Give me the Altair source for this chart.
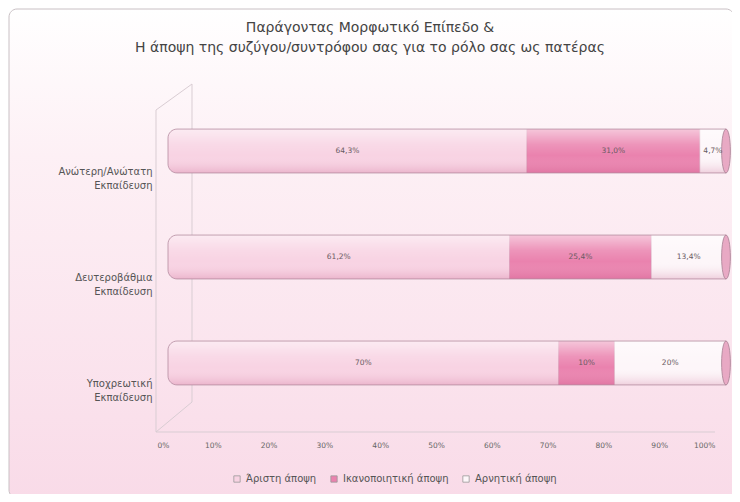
import altair as alt
import pandas as pd

# ---- data ----
categories = ["Ανώτερη/Ανώτατη Εκπαίδευση", "Δευτεροβάθμια Εκπαίδευση", "Υποχρεωτική Εκπαίδευση"]
series = ["Άριστη άποψη", "Ικανοποιητική άποψη", "Αρνητική άποψη"]
aristi = [64.3, 61.2, 70.0]
ikanopoiitiki = [31.0, 25.4, 10.0]
arnitiki = [4.7, 13.4, 20.0]
value_labels = [["64,3%", "31,0%", "4,7%"],
                ["61,2%", "25,4%", "13,4%"],
                ["70%", "10%", "20%"]]
x_ticks = [0, 10, 20, 30, 40, 50, 60, 70, 80, 90, 100]
title_lines = ["Παράγοντας Μορφωτικό Επίπεδο &",
               "Η άποψη της συζύγου/συντρόφου σας για το ρόλο σας ως πατέρας"]
colors = ["#f8d3e3", "#ea82ae", "#fdf6f9"]

rows = []
for i, cat in enumerate(categories):
    for j, (s, vals) in enumerate(zip(series, [aristi, ikanopoiitiki, arnitiki])):
        rows.append({"cat": cat, "series": s, "value": vals[i], "order": j,
                     "label": value_labels[i][j]})
df = pd.DataFrame(rows)
cat_df = pd.DataFrame({"cat": categories})

W, H = 558, 294
FONT = "DejaVu Sans"

yscale = alt.Scale(domain=categories, paddingInner=0.586, paddingOuter=0.18)
xscale = alt.Scale(domain=[0, 100], nice=False, zero=True)

base = alt.Chart(df).transform_stack(
    stack="value", groupby=["cat"], as_=["start", "end"],
    sort=[alt.SortField("order")]
)

yenc = alt.Y("cat:N", scale=yscale, sort=categories,
             axis=alt.Axis(title=None, ticks=False, domain=False, zindex=2,
                           labelExpr="split(datum.label, ' ')",
                           labelFontSize=10, labelColor="#555555",
                           labelFont=FONT, labelPadding=16, labelOffset=21,
                           labelLineHeight=14, labelAlign="right",
                           labelLimit=200))
xenc = alt.X("start:Q", scale=xscale,
             axis=alt.Axis(title=None, values=x_ticks, ticks=False, domain=False,
                           grid=False, labelExpr="datum.value + '%'", zindex=2,
                           labelFontSize=7.5, labelColor="#666666", labelFont=FONT,
                           labelPadding=37, labelOffset=-11))

color = alt.Color("series:N", scale=alt.Scale(domain=series, range=colors),
                  legend=alt.Legend(title=None, orient="none", direction="horizontal",
                                    legendX=67, legendY=364, symbolType="square",
                                    symbolSize=40, symbolStrokeColor="#999999",
                                    symbolStrokeWidth=0.8, labelFontSize=10,
                                    labelFont=FONT, labelColor="#555555",
                                    columnPadding=12, padding=0, symbolOffset=-3,
                                    zindex=2))

one = pd.DataFrame({"k": [0]})

# background frame
frame = alt.Chart(one).mark_rect(
    cornerRadius=8, stroke="#c9c0c4", strokeWidth=1,
    fill=alt.Gradient(gradient="linear",
                      stops=[alt.GradientStop(color="#ffffff", offset=0),
                             alt.GradientStop(color="#fdf0f5", offset=0.3),
                             alt.GradientStop(color="#f9dbe8", offset=1)],
                      x1=0, x2=0, y1=0, y2=1)
).encode(x=alt.value(-159), x2=alt.value(566), y=alt.value(-101), y2=alt.value(388))

# title lines as text
title1 = alt.Chart(one).mark_text(
    text=title_lines[0], fontSize=14, font=FONT, color="#444444", align="center",
    baseline="middle"
).encode(x=alt.value(202), y=alt.value(-82))
title2 = alt.Chart(one).mark_text(
    text=title_lines[1], fontSize=14, font=FONT, color="#444444", align="center",
    baseline="middle"
).encode(x=alt.value(202), y=alt.value(-62))

# 3D wall / floor lines
line_col = "#d9cdd3"
wall_front = alt.Chart(one).mark_rule(color=line_col, strokeWidth=1).encode(
    x=alt.value(-12), y=alt.value(0), y2=alt.value(322))
wall_back = alt.Chart(one).mark_rule(color=line_col, strokeWidth=1).encode(
    x=alt.value(24), y=alt.value(-26), y2=alt.value(292))
wall_top = alt.Chart(one).mark_rule(color=line_col, strokeWidth=1).encode(
    x=alt.value(-12), x2=alt.value(24), y=alt.value(0), y2=alt.value(-26))
wall_bot = alt.Chart(one).mark_rule(color=line_col, strokeWidth=1).encode(
    x=alt.value(-12), x2=alt.value(24), y=alt.value(322), y2=alt.value(292))
floor = alt.Chart(one).mark_rule(color=line_col, strokeWidth=1).encode(
    x=alt.value(-12), x2=alt.value(547), y=alt.value(322))

# bars: first segment with rounded left end, others square
bars_first = base.transform_filter("datum.order == 0").mark_bar(
    cornerRadiusTopLeft=9, cornerRadiusBottomLeft=9
).encode(y=yenc, x=xenc, x2="end:Q", color=color)
bars_rest = base.transform_filter("datum.order > 0").mark_bar().encode(
    y=alt.Y("cat:N", scale=yscale, sort=categories), x=alt.X("start:Q", scale=xscale),
    x2="end:Q", color=color)

# segment borders (soft dividing lines)
seg_edges = base.transform_filter("datum.order > 0").mark_rule(
    color="#c98aa6", strokeWidth=0.8, opacity=0.6
).encode(y=alt.Y("cat:N", scale=yscale, sort=categories, bandPosition=0.0),
         y2=alt.Y2("cat:N", bandPosition=1.0),
         x=alt.X("start:Q", scale=xscale))

# cylinder shading overlay
shade = alt.Chart(cat_df).mark_bar(
    cornerRadiusTopLeft=9, cornerRadiusBottomLeft=9,
    stroke="#b48ca0", strokeWidth=0.8,
    fill=alt.Gradient(gradient="linear",
                      stops=[alt.GradientStop(color="rgba(255,255,255,0.55)", offset=0),
                             alt.GradientStop(color="rgba(255,255,255,0.15)", offset=0.35),
                             alt.GradientStop(color="rgba(255,255,255,0)", offset=0.6),
                             alt.GradientStop(color="rgba(190,70,120,0.22)", offset=1)],
                      x1=0, x2=0, y1=0, y2=1)
).encode(y=alt.Y("cat:N", scale=yscale, sort=categories),
         x=alt.datum(0, scale=xscale), x2=alt.datum(100))

# right end cap (ellipse)
cap = alt.Chart(cat_df).mark_point(
    shape="M0,-1A0.2,1,0,1,1,0,1A0.2,1,0,1,1,0,-1Z",
    filled=True, fill="#e8a9c4", stroke="#a67f92", strokeWidth=0.8,
    size=44 * 44, opacity=1
).encode(y=alt.Y("cat:N", scale=yscale, sort=categories),
         x=alt.datum(100, scale=xscale))

# value labels
labels = base.transform_calculate(mid="(datum.start + datum.end) / 2").mark_text(
    fontSize=7.5, color="#6a5a62", font=FONT
).encode(y=alt.Y("cat:N", scale=yscale, sort=categories),
         x=alt.X("mid:Q", scale=xscale), text="label:N")

chart = alt.layer(
    frame, title1, title2, wall_back, wall_top, wall_front, wall_bot, floor,
    bars_first, bars_rest, seg_edges, shade, cap, labels
).properties(
    width=W, height=H,
    autosize=alt.AutoSizeParams(type="none"),
    padding={"left": 160, "top": 102, "right": 6, "bottom": 90},
    background="#ffffff"
).configure_view(strokeWidth=0, fill=None)

chart.save("out.html", embed_options={"renderer": "svg", "actions": False})
